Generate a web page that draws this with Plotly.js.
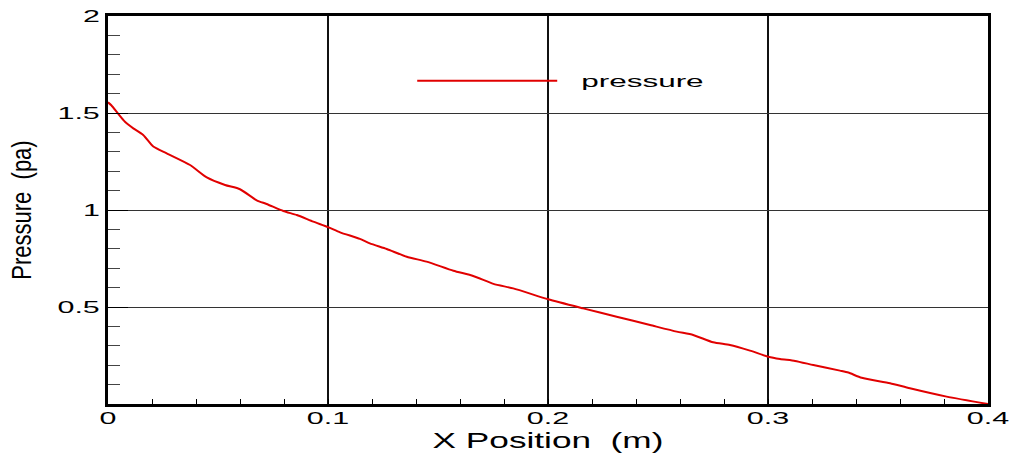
<!DOCTYPE html>
<html>
<head>
<meta charset="utf-8">
<script src="https://cdn.plot.ly/plotly-3.0.1.min.js"></script>
<style>
  html, body { margin: 0; padding: 0; background: #fff; }
  #chart { width: 1011px; height: 453px; }
</style>
</head>
<body>
<div id="chart"></div>
<script>
// Data
const xPosition = [0.000, 0.0015, 0.0047, 0.0077, 0.0115, 0.016, 0.0206, 0.0267, 0.0373, 0.0449,
  0.0532, 0.060, 0.0676, 0.0721, 0.0797, 0.0858, 0.0933, 0.100, 0.1055, 0.1145,
  0.119, 0.1267, 0.1358, 0.1448, 0.157, 0.166, 0.1752, 0.1842, 0.2001, 0.216,
  0.2312, 0.2464, 0.2585, 0.266, 0.2751, 0.2827, 0.2918, 0.3001, 0.3055, 0.3123,
  0.3206, 0.3327, 0.3365, 0.3426, 0.3555, 0.3645, 0.3812, 0.400];
const pressure = [1.555, 1.54, 1.495, 1.455, 1.421, 1.387, 1.327, 1.292, 1.232, 1.168,
  1.129, 1.107, 1.050, 1.031, 0.995, 0.974, 0.940, 0.912, 0.885, 0.851,
  0.828, 0.799, 0.759, 0.734, 0.687, 0.660, 0.619, 0.596, 0.540, 0.493,
  0.450, 0.407, 0.373, 0.356, 0.318, 0.304, 0.275, 0.244, 0.232, 0.222,
  0.201, 0.172, 0.162, 0.135, 0.107, 0.081, 0.038, 0.000];
const yTickVals = [0, 0.5, 1, 1.5, 2];
const yTickText = ['', '0.5', '1', '1.5', '2'];
const xTickVals = [0, 0.1, 0.2, 0.3, 0.4];
const xTickText = ['0', '0.1', '0.2', '0.3', '0.4'];
const seriesName = 'pressure';
const xTitle = 'X Position\u00a0\u00a0(m)';
const yTitle = 'Pressure\u00a0\u00a0(pa)';

const FONT = 'Liberation Sans, Arial, sans-serif';

const trace = {
  x: xPosition, y: pressure, type: 'scatter', mode: 'lines', name: seriesName,
  line: { color: 'rgb(225,0,0)', width: 2, shape: 'spline', smoothing: 0.6 }
};

const layout = {
  width: 1011, height: 453,
  margin: { l: 108, r: 23, t: 16, b: 49 },
  paper_bgcolor: '#fff', plot_bgcolor: '#fff',
  font: { family: FONT, color: '#000', size: 16 },
  showlegend: true,
  legend: {
    x: 0.3457, y: 0.832, xanchor: 'left', yanchor: 'middle',
    bgcolor: 'rgba(0,0,0,0)', borderwidth: 0,
    font: { family: FONT, size: 17, color: '#000' },
    itemwidth: 140
  },
  xaxis: {
    range: [0, 0.4], autorange: false, fixedrange: true,
    tickmode: 'array', tickvals: xTickVals, ticktext: xTickText,
    ticks: 'inside', ticklen: 5, tickwidth: 1, tickcolor: '#000',
    ticklabelstandoff: -2,
    showgrid: true, gridcolor: '#111', gridwidth: 2,
    showline: true, linecolor: '#000', linewidth: 3, mirror: true,
    zeroline: false,
    minor: { tickmode: 'linear', tick0: 0, dtick: 0.02, ticks: 'inside', ticklen: 5, tickwidth: 1, tickcolor: '#000', showgrid: false },
    tickfont: { family: FONT, size: 16, color: '#000' },
    title: { text: xTitle, font: { family: FONT, size: 22, color: '#000' }, standoff: 8 },
    automargin: false
  },
  yaxis: {
    range: [0, 2], autorange: false, fixedrange: true,
    tickmode: 'array', tickvals: yTickVals, ticktext: yTickText,
    ticks: 'inside', ticklen: 20, tickwidth: 1, tickcolor: '#000',
    ticklabelstandoff: 2,
    showgrid: true, gridcolor: '#333', gridwidth: 1,
    showline: true, linecolor: '#000', linewidth: 3, mirror: true,
    zeroline: false,
    minor: { tickmode: 'linear', tick0: 0, dtick: 0.1, ticks: 'inside', ticklen: 12, tickwidth: 1, tickcolor: '#444', showgrid: false },
    tickfont: { family: FONT, size: 16, color: '#000' },
    title: { text: yTitle, font: { family: FONT, size: 22, color: '#000' }, standoff: 40 },
    automargin: false
  }
};

function stretch(sel, factor) {
  document.querySelectorAll(sel).forEach(function (t) {
    const L = t.getComputedTextLength();
    if (L > 0) {
      t.setAttribute('textLength', (L * factor).toFixed(1));
      t.setAttribute('lengthAdjust', 'spacingAndGlyphs');
    }
  });
}

Plotly.newPlot('chart', [trace], layout, { staticPlot: true, displayModeBar: false }).then(function () {
  stretch('#chart .xtick text', 1.9);
  stretch('#chart .ytick text', 1.9);
  stretch('#chart .legendtext', 1.85);
  stretch('#chart .xtitle', 1.6);
  document.querySelectorAll('#chart .legend [clip-path]').forEach(function (e) { e.removeAttribute('clip-path'); });
  document.querySelectorAll('#chart .legend').forEach(function (e) { e.removeAttribute('clip-path'); });
  document.querySelectorAll('#chart .legendtext').forEach(function (t) {
    t.setAttribute('x', (+t.getAttribute('x') + 19).toFixed(1));
  });
  document.querySelectorAll('#chart .ytitle').forEach(function (t) {
    const x = +t.getAttribute('x'), y = +t.getAttribute('y');
    t.setAttribute('transform', 'translate(' + x + ',' + y + ') scale(1.25,1) translate(' + (-x) + ',' + (-y) + ') rotate(-90,' + x + ',' + y + ')');
  });
});
</script>
</body>
</html>
